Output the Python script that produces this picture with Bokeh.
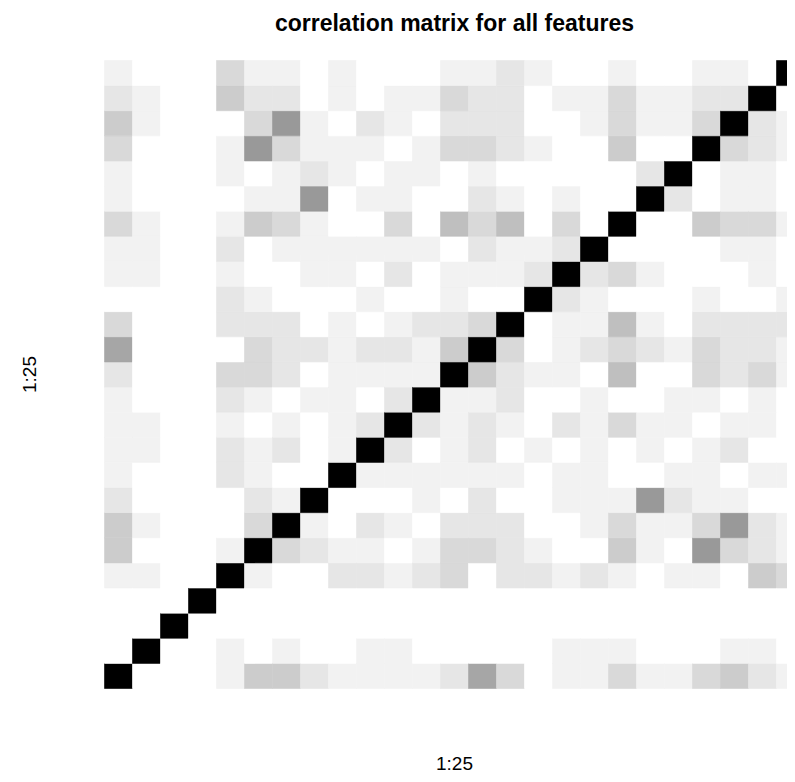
import math
from bokeh.plotting import figure
from bokeh.models import Range1d, LinearColorMapper, ColumnDataSource, Label
from bokeh.embed import file_html
from bokeh.resources import INLINE

# absolute correlation of feature k with features 1..25
f01 = [1.00, 0, 0, 0, .07, .22, .22, .12, .07, .07, .07, .07, .12, .37, .17, 0, .07, .07, .17, .07, .07, .17, .22, .12, .07]
f02 = [0, 1.00, 0, 0, .07, 0, .07, 0, 0, .07, .07, 0, 0, 0, 0, 0, .07, .07, .07, 0, 0, 0, .07, .07, 0]
f03 = [0, 0, 1.00, 0, 0, 0, 0, 0, 0, 0, 0, 0, 0, 0, 0, 0, 0, 0, 0, 0, 0, 0, 0, 0, 0]
f04 = [0, 0, 0, 1.00, 0, 0, 0, 0, 0, 0, 0, 0, 0, 0, 0, 0, 0, 0, 0, 0, 0, 0, 0, 0, 0]
f05 = [.07, .07, 0, 0, 1.00, .07, 0, 0, .12, .12, .07, .12, .17, 0, .12, .12, .07, .12, .07, 0, .07, .07, 0, .22, .17]
f06 = [.22, 0, 0, 0, .07, 1.00, .17, .12, .07, .07, 0, .07, .17, .17, .12, .07, 0, 0, .22, .07, 0, .42, .17, .12, .07]
f07 = [.22, .07, 0, 0, 0, .17, 1.00, .07, 0, .12, .07, 0, .12, .12, .12, 0, 0, .07, .17, .07, .07, .17, .42, .12, .07]
f08 = [.12, 0, 0, 0, 0, .12, .07, 1.00, 0, 0, 0, .07, 0, .12, 0, 0, .07, .07, .07, .42, .12, .07, .07, 0, 0]
f09 = [.07, 0, 0, 0, .12, .07, 0, 0, 1.00, .07, .07, .07, .07, .07, .07, 0, .07, .07, 0, 0, .07, .07, 0, .07, .07]
f10 = [.07, .07, 0, 0, .12, .07, .12, 0, .07, 1.00, .12, 0, .07, .12, 0, .07, 0, .07, 0, .07, 0, .07, .12, 0, 0]
f11 = [.07, .07, 0, 0, .07, 0, .07, 0, .07, .12, 1.00, .12, .07, .12, .07, 0, .12, .07, .17, .07, .07, 0, .07, .07, 0]
f12 = [.07, 0, 0, 0, .12, .07, 0, .07, .07, 0, .12, 1.00, .07, .07, .12, 0, 0, .07, 0, 0, .07, .07, 0, .07, 0]
f13 = [.12, 0, 0, 0, .17, .17, .12, 0, .07, .07, .07, .07, 1.00, .22, .12, .07, .07, 0, .27, 0, 0, .17, .12, .17, .07]
f14 = [.37, 0, 0, 0, 0, .17, .12, .12, .07, .12, .12, .07, .22, 1.00, .17, 0, .07, .12, .17, .12, .07, .17, .12, .12, .07]
f15 = [.17, 0, 0, 0, .12, .12, .12, 0, .07, 0, .07, .12, .12, .17, 1.00, 0, .07, .07, .27, .07, 0, .12, .12, .12, .12]
f16 = [0, 0, 0, 0, .12, .07, 0, 0, 0, .07, 0, 0, .07, 0, 0, 1.00, .12, .07, 0, 0, 0, .07, 0, 0, .07]
f17 = [.07, .07, 0, 0, .07, 0, 0, .07, .07, 0, .12, 0, .07, .07, .07, .12, 1.00, .12, .17, .07, 0, 0, 0, .07, 0]
f18 = [.07, .07, 0, 0, .12, 0, .07, .07, .07, .07, .07, .07, 0, .12, .07, .07, .12, 1.00, 0, 0, 0, 0, .07, .07, 0]
f19 = [.17, .07, 0, 0, .07, .22, .17, .07, 0, 0, .17, 0, .27, .17, .27, 0, .17, 0, 1.00, 0, 0, .22, .17, .17, .07]
f20 = [.07, 0, 0, 0, 0, .07, .07, .42, 0, .07, .07, 0, 0, .12, .07, 0, .07, 0, 0, 1.00, .12, 0, .07, .07, 0]
f21 = [.07, 0, 0, 0, .07, 0, .07, .12, .07, 0, .07, .07, 0, .07, 0, 0, 0, 0, 0, .12, 1.00, 0, .07, .07, 0]
f22 = [.17, 0, 0, 0, .07, .42, .17, .07, .07, .07, 0, .07, .17, .17, .12, .07, 0, 0, .22, 0, 0, 1.00, .17, .12, .07]
f23 = [.22, .07, 0, 0, 0, .17, .42, .07, 0, .12, .07, 0, .12, .12, .12, 0, 0, .07, .17, .07, .07, .17, 1.00, .12, .07]
f24 = [.12, .07, 0, 0, .22, .12, .12, 0, .07, 0, .07, .07, .17, .12, .12, 0, .07, .07, .17, .07, .07, .12, .12, 1.00, 0]
f25 = [.07, 0, 0, 0, .17, .07, .07, 0, .07, 0, 0, 0, .07, .07, .12, .07, 0, 0, .07, 0, 0, .07, .07, 0, 1.00]

rows = [f01, f02, f03, f04, f05, f06, f07, f08, f09, f10, f11, f12, f13,
        f14, f15, f16, f17, f18, f19, f20, f21, f22, f23, f24, f25]

title_text = "correlation matrix for all features"
x_label = "1:25"
y_label = "1:25"

N = len(rows)
xs, ys, vs = [], [], []
for i, r in enumerate(rows, start=1):
    for j, v in enumerate(r, start=1):
        xs.append(i)
        ys.append(j)
        vs.append(v)
src = ColumnDataSource(dict(x=xs, y=ys, v=vs))

# grey ramp: white (0) -> black (1), 21 steps like R's grey()
palette = ["#%02X%02X%02X" % ((int(255 * (1 - k / 20) + 0.5),) * 3) for k in range(21)]
mapper = LinearColorMapper(palette=palette, low=0, high=1)

# ---- layout (pixels) ----
W, H = 787, 774
X0, Y0 = 104, 60          # left / top edge of the cell grid
CELL_W, CELL_H = 28.0, 25.12
x_start = 0.5 - X0 / CELL_W
x_end = x_start + W / CELL_W
y_end = N + 0.5 + Y0 / CELL_H
y_start = y_end - H / CELL_H

def ypix(py):   # pixel row -> data y
    return y_end - py / CELL_H

def xpix(px):   # pixel column -> data x
    return x_start + px / CELL_W

p = figure(width=W, height=H, output_backend="svg", toolbar_location=None,
           x_range=Range1d(x_start, x_end), y_range=Range1d(y_start, y_end),
           x_axis_location=None, y_axis_location=None,
           min_border=0, min_border_left=0, min_border_right=0,
           min_border_top=0, min_border_bottom=0,
           background_fill_color="white", border_fill_color="white")

p.rect(x="x", y="y", width=1, height=1, source=src,
       fill_color={"field": "v", "transform": mapper},
       line_color={"field": "v", "transform": mapper}, line_width=0.6)

p.xgrid.visible = False
p.ygrid.visible = False
p.outline_line_color = None

centre = (N + 1) / 2.0

p.add_layout(Label(x=centre, y=ypix(22), text=title_text,
                   text_align="center", text_baseline="alphabetic",
                   text_font="Liberation Sans", text_font_size="23px",
                   text_font_style="bold", text_color="black"))

# x-axis title: kept fully inside the figure (its lower edge must stay above H)
p.add_layout(Label(x=centre, y=ypix(752), text=x_label,
                   text_align="center", text_baseline="top",
                   text_font="Liberation Sans", text_font_size="19px",
                   text_color="black"))

p.add_layout(Label(x=xpix(28.5), y=centre, text=y_label, angle=math.pi / 2,
                   text_align="center", text_baseline="alphabetic",
                   text_font="Liberation Sans", text_font_size="19px",
                   text_color="black"))

open("out.html", "w").write(file_html(p, INLINE))
